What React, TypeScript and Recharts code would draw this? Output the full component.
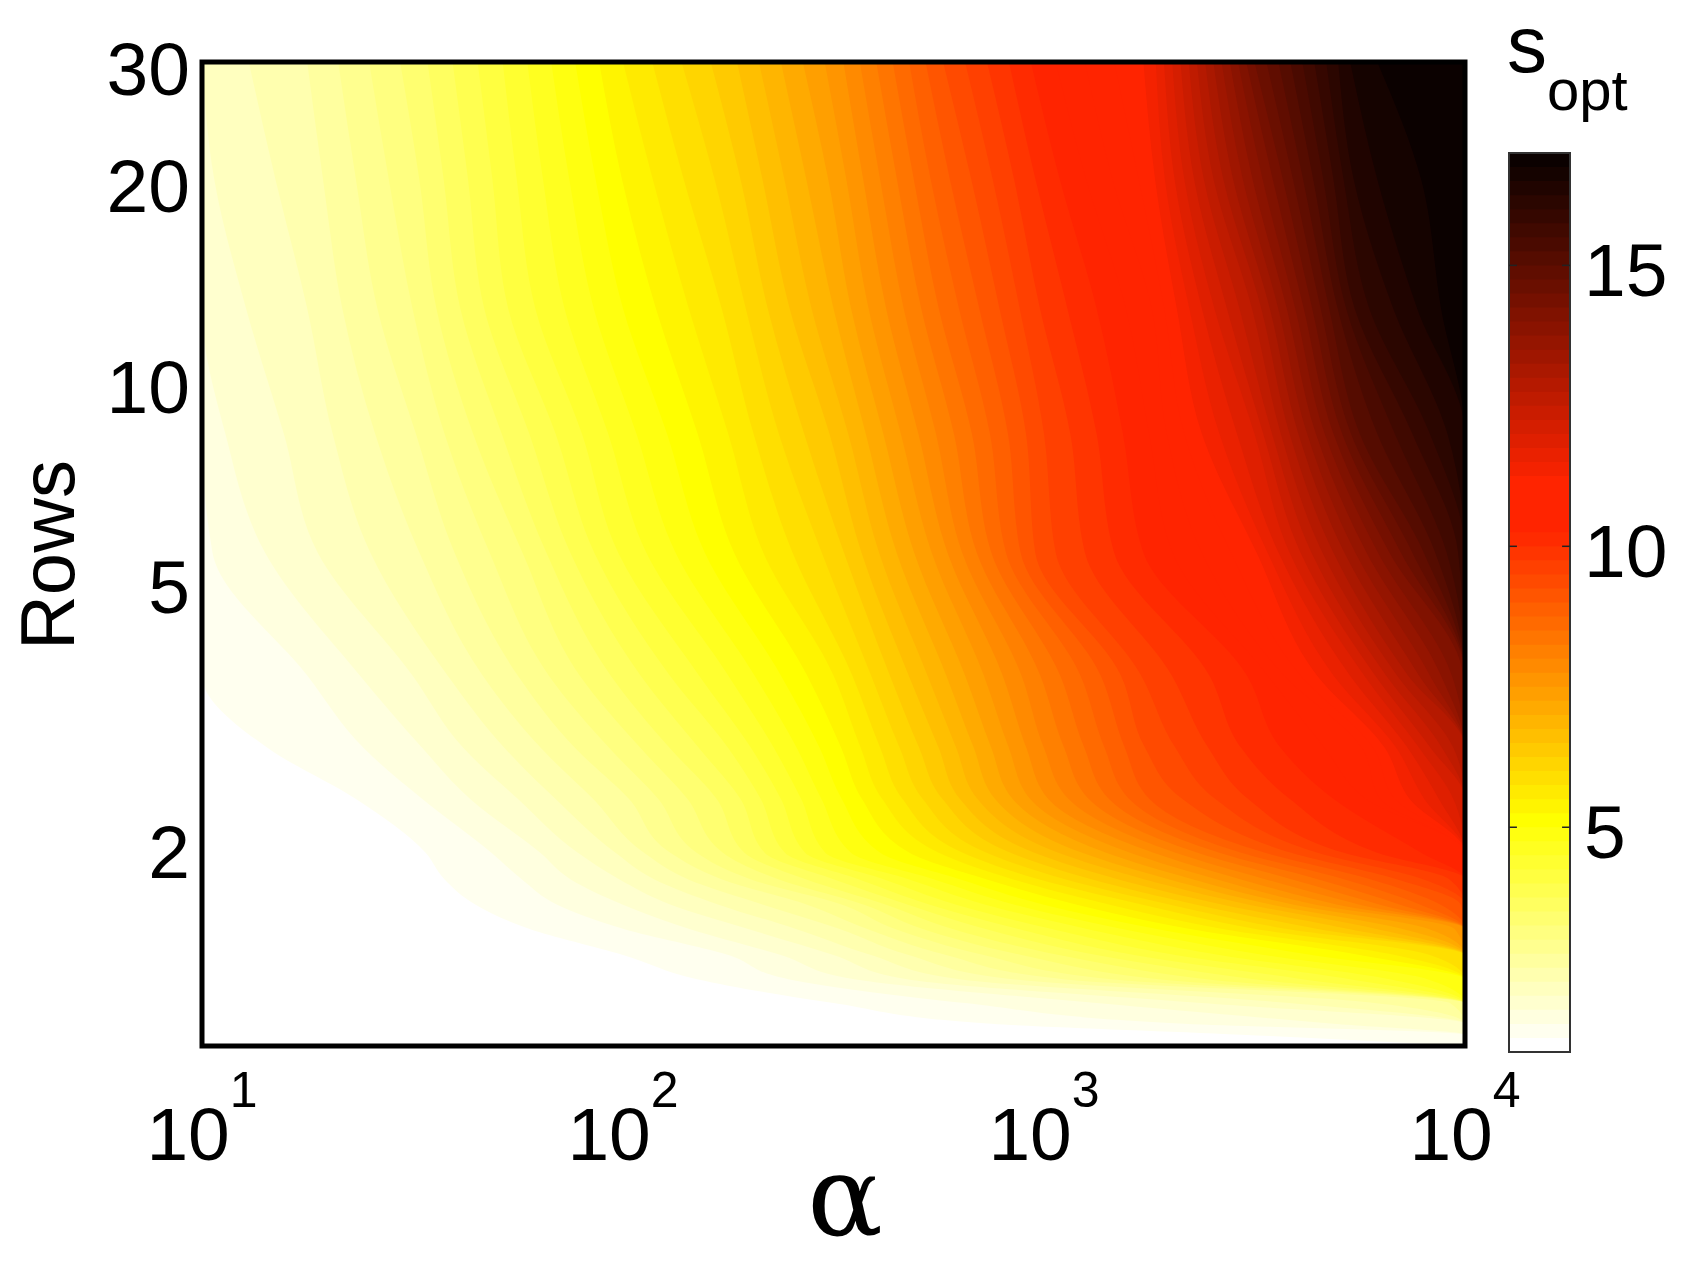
import React from 'react';
import { ComposedChart, Area, XAxis, YAxis, ReferenceArea, ReferenceLine } from 'recharts';

const FONT = '"Liberation Sans", Arial, Helvetica, sans-serif';

// alpha at the sampled columns (log spaced, 10 .. 10^4)
const ALPHA = [10, 17.78, 31.62, 56.23, 100, 177.8, 316.2, 562.3, 1000, 1778, 3162, 5623, 10000];

// Rows at the sampled lines, top to bottom
const ROWS = [30, 20, 12.8, 8.3, 5.5, 3.6, 2.8, 2.35, 1.95, 1.78, 1.63, 1.5, 1.37, 1.26, 1.16, 1.08, 1.04, 1.0];

// s_opt, one array per Rows line (columns follow ALPHA)
const S_R30 = [2.05, 2.5, 3.35, 4.4, 5.5, 6.4, 7.6, 9.2, 10.4, 11.3, 14.5, 16.7, 17.0];
const S_R20 = [1.95, 2.38, 3.18, 4.26, 5.26, 6.11, 7.31, 8.87, 10.1, 11.1, 13.8, 16.4, 17.0];
const S_R12_8 = [1.82, 2.25, 3.0, 4.1, 5.0, 5.8, 7.0, 8.5, 9.8, 10.7, 12.8, 15.9, 17.0];
const S_R8_3 = [1.65, 2.1, 2.72, 3.64, 4.64, 5.5, 6.54, 8.04, 9.5, 10.5, 12.0, 15.0, 16.5];
const S_R5_5 = [1.45, 1.95, 2.45, 3.2, 4.3, 5.2, 6.1, 7.6, 9.4, 10.3, 11.2, 13.6, 15.9];
const S_R3_6 = [1.3, 1.5, 2.0, 2.75, 3.6, 4.5, 5.5, 6.9, 8.3, 9.6, 10.3, 11.9, 14.3];
const S_R2_8 = [1.2, 1.28, 1.69, 2.33, 3.1, 4.0, 5.15, 6.5, 8.0, 9.3, 10.1, 10.7, 13.0];
const S_R2_35 = [1.0, 1.08, 1.45, 2.0, 2.7, 3.6, 4.9, 6.2, 7.7, 9.0, 9.8, 10.4, 12.2];
const S_R1_95 = [1.0, 1.0, 1.2, 1.6, 2.3, 3.3, 4.6, 5.5, 6.6, 7.7, 8.9, 9.9, 10.5];
const S_R1_78 = [1.0, 1.0, 1.15, 1.48, 2.02, 2.8, 3.75, 4.8, 5.8, 6.8, 7.9, 8.9, 9.9];
const S_R1_63 = [1.0, 1.0, 1.1, 1.35, 1.75, 2.3, 2.9, 4.1, 5.0, 5.8, 6.8, 8.0, 9.3];
const S_R1_5 = [1.0, 1.0, 1.05, 1.22, 1.5, 1.9, 2.45, 3.4, 4.2, 4.95, 5.75, 6.6, 7.6];
const S_R1_37 = [1.0, 1.0, 1.0, 1.1, 1.25, 1.5, 2.0, 2.7, 3.4, 4.1, 4.7, 5.25, 6.0];
const S_R1_26 = [1.0, 1.0, 1.0, 1.05, 1.13, 1.3, 1.65, 2.15, 2.65, 3.2, 3.75, 4.3, 5.0];
const S_R1_16 = [1.0, 1.0, 1.0, 1.0, 1.02, 1.1, 1.25, 1.45, 1.65, 1.85, 2.15, 2.45, 2.8];
const S_R1_08 = [1.0, 1.0, 1.0, 1.0, 1.0, 1.03, 1.1, 1.2, 1.3, 1.45, 1.6, 1.8, 2.0];
const S_R1_04 = [1.0, 1.0, 1.0, 1.0, 1.0, 1.0, 1.02, 1.06, 1.1, 1.18, 1.26, 1.35, 1.45];
const S_R1_0 = [1.0, 1.0, 1.0, 1.0, 1.0, 1.0, 1.0, 1.02, 1.05, 1.08, 1.12, 1.16, 1.2];

const S_GRID = [
  S_R30, S_R20, S_R12_8, S_R8_3, S_R5_5, S_R3_6, S_R2_8, S_R2_35, S_R1_95,
  S_R1_78, S_R1_63, S_R1_5, S_R1_37, S_R1_26, S_R1_16, S_R1_08, S_R1_04, S_R1_0,
];

const X_TICKS = [10, 100, 1000, 10000];
const X_EXPONENTS = ['1', '2', '3', '4'];
const Y_TICKS = [2, 5, 10, 20, 30];
const CBAR_TICKS = [5, 10, 15];

const S_MIN = 1;
const S_MAX = 17;
const N_COLORS = 64;
const STEP = (S_MAX - S_MIN) / N_COLORS;

// matlab hot(64), entry i = 1..64 (the print has a slight orange cast in the reds)
const hot = (i: number) => {
  const r = Math.min(1, i / 24);
  const g = Math.max(Math.min(1, Math.max(0, (i - 24) / 24)), 0.14 * r);
  const b = Math.min(1, Math.max(0, (i - 48) / 16));
  return `rgb(${Math.round(r * 255)},${Math.round(g * 255)},${Math.round(b * 255)})`;
};
// band k (1 = lowest s) uses the flipped map
const bandColor = (k: number) => hot(N_COLORS + 1 - k);

// contour levels between the 64 colour bands
const LEVELS = Array.from({ length: N_COLORS - 1 }, (_, i) => S_MIN + STEP * (i + 1));

// where along a Rows line s first reaches the level
const crossing = (vals: number[], level: number) => {
  if (vals[0] >= level) return ALPHA[0];
  for (let i = 1; i < vals.length; i++) {
    if (vals[i] >= level) {
      const t = (level - vals[i - 1]) / (vals[i] - vals[i - 1]);
      const a = Math.log10(ALPHA[i - 1]);
      const b = Math.log10(ALPHA[i]);
      return Math.pow(10, a + t * (b - a));
    }
  }
  return ALPHA[ALPHA.length - 1];
};

const mapData = ROWS.map((r, j) => {
  const entry: Record<string, any> = { rows: r };
  LEVELS.forEach((lv, k) => {
    entry[`l${k}`] = [crossing(S_GRID[j], lv), ALPHA[ALPHA.length - 1]];
  });
  return entry;
});

// each band is painted from its lower edge to the top, later bands cover earlier ones
const cbarData = [0, 1].map((x) => {
  const entry: Record<string, any> = { x };
  for (let k = 1; k <= N_COLORS; k++) {
    entry[`b${k}`] = [S_MIN + STEP * (k - 1), S_MAX];
  }
  return entry;
});

const XTick = ({ x, y, payload, index }: any) => (
  <text x={x} y={y + 114} textAnchor="middle" fontSize={75} fontFamily={FONT} fill="#000">
    10
    <tspan fontSize={50} dy={-53}>{X_EXPONENTS[index] ?? Math.round(Math.log10(payload.value))}</tspan>
  </text>
);

const YTick = ({ x, y, payload }: any) => (
  <text x={x - 12} y={y + 33} textAnchor="end" fontSize={75} fontFamily={FONT} fill="#000">
    {payload.value}
  </text>
);

const CbarTick = ({ x, y, payload }: any) => (
  <text x={x + 14} y={y + 31} textAnchor="start" fontSize={75} fontFamily={FONT} fill="#000">
    {payload.value}
  </text>
);

const App: React.FC = () => {
  return (
    <div style={{ position: 'absolute', left: 0, top: 0, width: 1684, height: 1262, background: '#fff' }}>
      <div style={{ position: 'absolute', left: 0, top: 0 }}>
        <ComposedChart
          width={1684}
          height={1262}
          data={mapData}
          layout="vertical"
          margin={{ top: 62, right: 219, bottom: 0, left: 0 }}
        >
          <XAxis
            type="number"
            scale="log"
            domain={[10, 10000]}
            allowDataOverflow
            ticks={X_TICKS}
            interval={0}
            height={216}
            tickSize={0}
            tickMargin={0}
            tickLine={false}
            axisLine={false}
            tick={<XTick />}
          />
          <YAxis
            type="number"
            dataKey="rows"
            scale="log"
            domain={[1, 30]}
            allowDataOverflow
            reversed
            ticks={Y_TICKS}
            interval={0}
            width={202}
            tickSize={0}
            tickMargin={0}
            tickLine={false}
            axisLine={false}
            tick={<YTick />}
          />
          {LEVELS.map((lv, k) => (
            <Area
              key={`l${k}`}
              dataKey={`l${k}`}
              type="monotone"
              stroke="none"
              fill={bandColor(k + 2)}
              fillOpacity={1}
              dot={false}
              activeDot={false}
              isAnimationActive={false}
            />
          ))}
          <ReferenceArea x1={10} x2={10000} y1={1} y2={30} fill="none" stroke="#000" strokeWidth={5} ifOverflow="visible" />
        </ComposedChart>
      </div>

      {/* colour bar */}
      <div style={{ position: 'absolute', left: 1505, top: 149 }}>
        <ComposedChart width={179} height={907} data={cbarData} margin={{ top: 4, right: 0, bottom: 4, left: 4 }}>
          <XAxis type="number" dataKey="x" domain={[0, 1]} hide />
          <YAxis
            type="number"
            orientation="right"
            domain={[S_MIN, S_MAX]}
            ticks={CBAR_TICKS}
            interval={0}
            width={114}
            tickSize={0}
            tickMargin={0}
            tickLine={false}
            axisLine={false}
            tick={<CbarTick />}
          />
          {Array.from({ length: N_COLORS }, (_, i) => (
            <Area
              key={`b${i + 1}`}
              dataKey={`b${i + 1}`}
              type="linear"
              stroke="none"
              fill={bandColor(i + 1)}
              fillOpacity={1}
              dot={false}
              activeDot={false}
              isAnimationActive={false}
            />
          ))}
          {CBAR_TICKS.map((t) => (
            <ReferenceLine key={`tl${t}`} segment={[{ x: 0, y: t }, { x: 0.13, y: t }]} stroke="#222" strokeWidth={1.5} />
          ))}
          {CBAR_TICKS.map((t) => (
            <ReferenceLine key={`tr${t}`} segment={[{ x: 0.87, y: t }, { x: 1, y: t }]} stroke="#222" strokeWidth={1.5} />
          ))}
          <ReferenceArea x1={0} x2={1} y1={S_MIN} y2={S_MAX} fill="none" stroke="#333" strokeWidth={2} ifOverflow="visible" />
        </ComposedChart>
      </div>

      {/* titles */}
      <svg width={1684} height={1262} style={{ position: 'absolute', left: 0, top: 0, pointerEvents: 'none' }}>
        <text transform="translate(74,555) rotate(-90)" textAnchor="middle" fontSize={76} fontFamily={FONT} fill="#000">
          Rows
        </text>
        <text x={845} y={1235} textAnchor="middle" fontSize={112} fontFamily='"DejaVu Serif", "Liberation Serif", serif' fill="#000">
          α
        </text>
        <text x={1507} y={72} fontSize={80} fontFamily={FONT} fill="#000">
          s<tspan fontSize={58} dy={38}>opt</tspan>
        </text>
      </svg>
    </div>
  );
};

export default App;
